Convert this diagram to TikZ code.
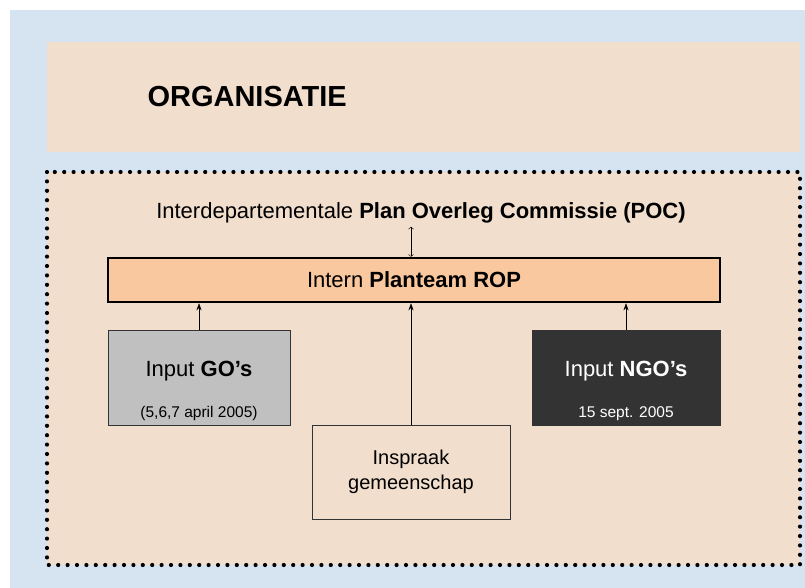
\documentclass[tikz,border=0pt]{standalone}
\usepackage{fontspec}
\setmainfont{Liberation Sans}
\usetikzlibrary{arrows.meta,positioning}
\definecolor{bgblue}{RGB}{214,228,242}
\definecolor{peach}{RGB}{242,222,204}
\definecolor{teamfill}{RGB}{250,200,158}
\definecolor{gofill}{RGB}{192,192,192}
\definecolor{ngofill}{RGB}{51,51,51}
\tikzset{dotborder/.style={line width=4.2pt,dash pattern=on 0pt off 9.4pt,line cap=round}}

\begin{document}
\begin{tikzpicture}[x=1pt,y=-1pt,
  txt/.style={font=\fontsize{20}{25}\selectfont},
  bigtxt/.style={font=\fontsize{22}{26}\selectfont},
  inbox/.style={draw=black!80,minimum height=95pt,text depth=18pt,bigtxt},
  datelbl/.style={anchor=base,yshift=8pt,font=\fontsize{15.5}{18}\selectfont},
  link/.style={-{Stealth[length=7pt,width=5pt]},thin}]
\useasboundingbox (0,0) rectangle (805,588);
\fill[bgblue] (10,10) rectangle (805,588);

% title block
\fill[peach] (47,42) rectangle (800,152);
\node[anchor=west,font=\fontsize{29}{34}\selectfont\bfseries] (title) at (144,97) {ORGANISATIE};

% organisation block
\fill[peach] (47,172) rectangle (800,565);
\draw[dotborder] (47,172) rectangle (800,565);

\node[bigtxt] (poc) at (421,213) {Interdepartementale \textbf{Plan Overleg Commissie (POC)}};
\node[bigtxt,draw,line width=2.5pt,fill=teamfill,minimum width=612pt,minimum height=44pt] (team) at (414,280) {Intern \textbf{Planteam ROP}};

\node[inbox,fill=gofill,minimum width=182pt,
  label={[datelbl]south:(5,6,7 april 2005)}] (go) at (199,377.5) {Input \textbf{GO's}};
\node[inbox,fill=ngofill,text=white,minimum width=188pt,
  label={[datelbl,text=white]south:15 sept. 2005}] (ngo) at (626,377.5) {Input \textbf{NGO's}};
\node[txt,draw=black!80,minimum width=198pt,minimum height=94pt,align=center] (insp) at (411,472) {Inspraak\\gemeenschap};

% connectors
\draw[link,<->] (poc.south -| insp.north) -- (team.north -| insp.north);
\draw[link] (go) -- (go.north |- team.south);
\draw[link] (insp) -- (insp.north |- team.south);
\draw[link] (ngo) -- (ngo.north |- team.south);
\end{tikzpicture}
\end{document}
